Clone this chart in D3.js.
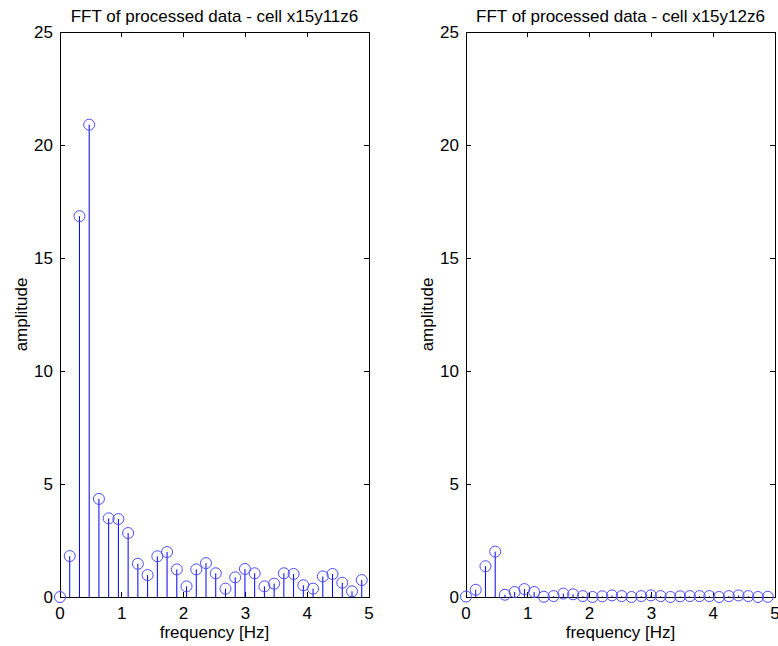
<!DOCTYPE html>
<html><head><meta charset="utf-8">
<script src="https://cdn.jsdelivr.net/npm/d3@7"></script>
<style>body{margin:0;background:#fff;} text{font-family:"Liberation Sans",Arial,sans-serif;}</style>
</head><body>
<svg id="chart" width="778" height="646"></svg>
<script>
const frequencies = [0, 0.1575, 0.315, 0.4725, 0.63, 0.7875, 0.945, 1.1025, 1.26, 1.4175, 1.575, 1.7325, 1.89, 2.0475, 2.205, 2.3625, 2.52, 2.6775, 2.835, 2.9925, 3.15, 3.3075, 3.465, 3.6225, 3.78, 3.9375, 4.095, 4.2525, 4.41, 4.5675, 4.725, 4.8825];
const ampCellA = [0, 1.81, 16.85, 20.9, 4.34, 3.48, 3.45, 2.83, 1.47, 0.97, 1.80, 1.99, 1.22, 0.47, 1.22, 1.50, 1.05, 0.37, 0.87, 1.24, 1.05, 0.47, 0.59, 1.05, 1.02, 0.52, 0.37, 0.91, 1.02, 0.63, 0.25, 0.75];
const ampCellB = [0.02, 0.32, 1.36, 2.01, 0.10, 0.22, 0.35, 0.22, 0.01, 0.04, 0.15, 0.12, 0.04, 0.0, 0.03, 0.07, 0.04, 0.0, 0.04, 0.07, 0.04, 0.0, 0.03, 0.04, 0.04, 0.04, 0.0, 0.04, 0.07, 0.04, 0.0, 0.01];
const titles = ["FFT of processed data - cell x15y11z6", "FFT of processed data - cell x15y12z6"];
const xTicks = [0, 1, 2, 3, 4, 5];
const yTicks = [0, 5, 10, 15, 20, 25];
const xLabel = "frequency [Hz]";
const yLabel = "amplitude";

const svg = d3.select("#chart");
svg.append("rect").attr("width", 778).attr("height", 646).attr("fill", "#fff");

const panels = [
  {left: 60, right: 369, values: ampCellA, title: titles[0]},
  {left: 466, right: 775, values: ampCellB, title: titles[1]}
];
const plotTop = 32, plotBottom = 597;
const fs = 17;

panels.forEach(p => {
  const x = d3.scaleLinear().domain([0, 5]).range([p.left, p.right]);
  const y = d3.scaleLinear().domain([0, 25]).range([plotBottom, plotTop]);
  const g = svg.append("g");
  const tl = 5;

  g.append("rect").attr("x", p.left).attr("y", plotTop)
    .attr("width", p.right - p.left).attr("height", plotBottom - plotTop)
    .attr("fill", "none").attr("stroke", "#000").attr("stroke-width", 1).attr("shape-rendering", "crispEdges");

  const ax = g.append("g");
  xTicks.forEach(t => {
    ax.append("line").attr("x1", x(t)).attr("x2", x(t)).attr("y1", plotBottom).attr("y2", plotBottom - tl)
      .attr("stroke", "#000").attr("shape-rendering", "crispEdges");
    ax.append("line").attr("x1", x(t)).attr("x2", x(t)).attr("y1", plotTop).attr("y2", plotTop + tl)
      .attr("stroke", "#000").attr("shape-rendering", "crispEdges");
    ax.append("text").attr("x", x(t)).attr("y", plotBottom + 22).attr("text-anchor", "middle")
      .attr("font-size", fs).text(t);
  });
  yTicks.forEach(t => {
    ax.append("line").attr("x1", p.left).attr("x2", p.left + tl).attr("y1", y(t)).attr("y2", y(t))
      .attr("stroke", "#000").attr("shape-rendering", "crispEdges");
    ax.append("line").attr("x1", p.right).attr("x2", p.right - tl).attr("y1", y(t)).attr("y2", y(t))
      .attr("stroke", "#000").attr("shape-rendering", "crispEdges");
    ax.append("text").attr("x", p.left - 7).attr("y", y(t) + 6).attr("text-anchor", "end")
      .attr("font-size", fs).text(t);
  });

  const data = frequencies.map((f, i) => ({f, v: p.values[i]}));
  g.selectAll(".stem").data(data).enter().append("line")
    .attr("x1", d => x(d.f)).attr("x2", d => x(d.f))
    .attr("y1", y(0)).attr("y2", d => y(d.v))
    .attr("stroke", "#0000ff").attr("stroke-width", 1);
  g.selectAll(".mk").data(data).enter().append("circle")
    .attr("cx", d => x(d.f)).attr("cy", d => y(d.v)).attr("r", 5.5)
    .attr("fill", "none").attr("stroke", "#4d4dff").attr("stroke-width", 1);

  g.append("text").attr("x", (p.left + p.right) / 2).attr("y", 22).attr("text-anchor", "middle")
    .attr("font-size", fs).text(p.title);
  g.append("text").attr("x", (p.left + p.right) / 2).attr("y", 638).attr("text-anchor", "middle")
    .attr("font-size", fs).text(xLabel);
  g.append("text").attr("transform", `translate(${p.left - 33},${(plotTop + plotBottom) / 2}) rotate(-90)`)
    .attr("text-anchor", "middle").attr("font-size", fs).text(yLabel);
});
</script>
</body></html>
